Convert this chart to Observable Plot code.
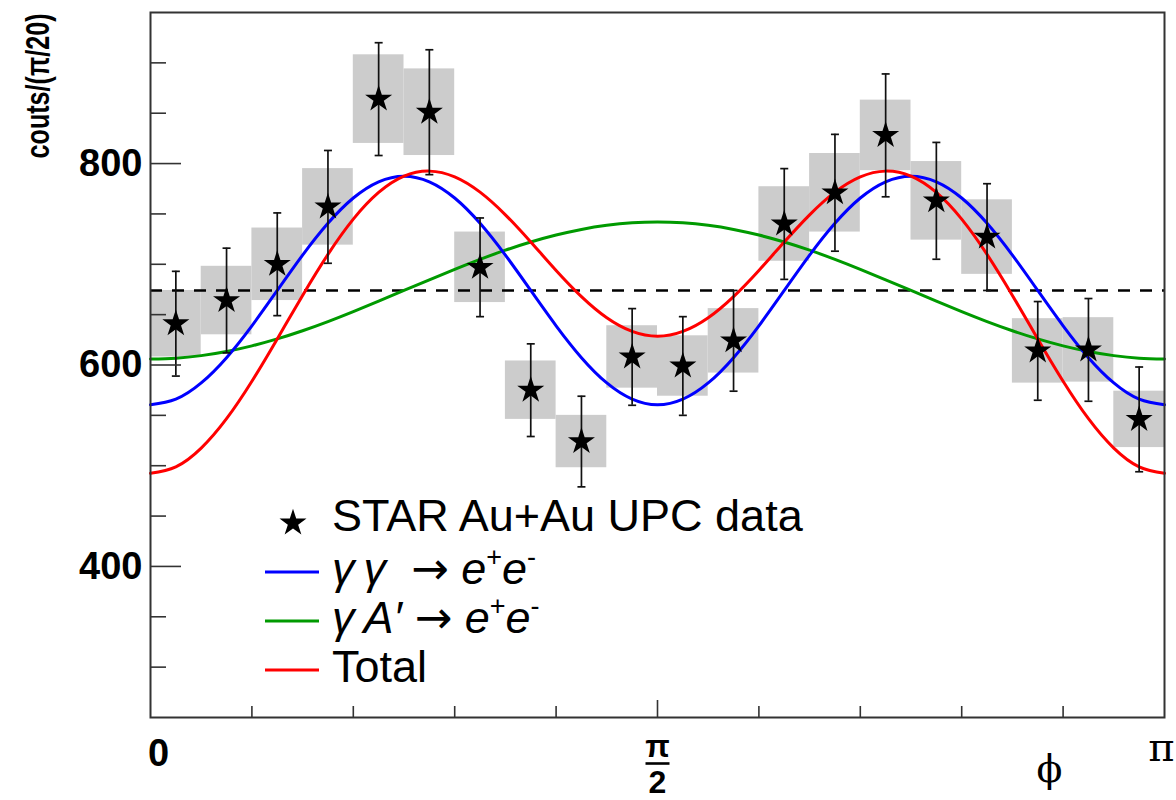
<!DOCTYPE html>
<html>
<head>
<meta charset="utf-8">
<script src="https://cdn.jsdelivr.net/npm/d3@7"></script>
<script src="https://cdn.jsdelivr.net/npm/@observablehq/plot@0.6"></script>
<style>
  body { margin: 0; background: #fff; }
  #wrap { position: relative; width: 1176px; height: 800px; overflow: hidden; }
  #wrap svg.overlay { position: absolute; left: 0; top: 0; pointer-events: none; }
</style>
</head>
<body>
<div id="wrap"></div>
<script>
// ---- data ----
// 20 bins of width pi/20 between 0 and pi
const counts  = [641, 664, 700, 757, 864, 851, 697, 575, 524, 608, 599, 624, 740, 771, 828, 763, 727, 614, 615, 546];
const statErr = [52, 52, 51, 56, 56, 62, 49, 46, 45, 48, 49, 50, 55, 58, 61, 58, 53, 49, 51, 52];
const sysErr  = [33, 34, 36, 38, 44, 43, 35, 29, 26, 31, 30, 32, 37, 39, 35, 39, 37, 32, 32, 28];

// curves sampled every pi/40 from 0 to pi (41 samples)
const gammaGamma = [560.5, 566.1, 582.2, 607.3, 638.9, 674, 709.1, 740.7, 765.8, 781.9, 787.5, 781.9, 765.8, 740.7, 709.1, 674, 638.9, 607.3, 582.2, 566.1, 560.5,
                    566.1, 582.2, 607.3, 638.9, 674, 709.1, 740.7, 765.8, 781.9, 787.5, 781.9, 765.8, 740.7, 709.1, 674, 638.9, 607.3, 582.2, 566.1, 560.5];
const gammaAprime = [606, 606.8, 609.3, 613.4, 619.0, 625.9, 634.0, 643.1, 653.0, 663.4, 674, 684.6, 695.0, 704.9, 714.0, 722.1, 729.0, 734.6, 738.7, 741.2, 742,
                     741.2, 738.7, 734.6, 729.0, 722.1, 714.0, 704.9, 695.0, 684.6, 674, 663.4, 653.0, 643.1, 634.0, 625.9, 619.0, 613.4, 609.3, 606.8, 606];
const totalFit = [492.5, 498.9, 517.5, 546.7, 583.9, 625.9, 669.1, 709.8, 744.8, 771.3, 787.5, 792.5, 786.8, 771.6, 749.1, 722.1, 693.9, 667.9, 646.9, 633.3, 628.5,
                  633.3, 646.9, 667.9, 693.9, 722.1, 749.1, 771.6, 786.8, 792.5, 787.5, 771.3, 744.8, 709.8, 669.1, 625.9, 583.9, 546.7, 517.5, 498.9, 492.5];
const flatLevel = [674];

const yMajorTicks = [400, 600, 800];
const yMinorTicks = [300, 350, 450, 500, 550, 650, 700, 750, 850, 900];
const xMajorTicks = [Math.PI / 2];
const xMinorTicks = [1, 2, 3, 4, 6, 7, 8, 9].map(k => k * Math.PI / 10);

const yTitle = "couts/(π/20)";
const xTitle = "ϕ";
const halfPiLabel = "π\n2";
const legendData = "STAR Au+Au UPC data";
const legendTotal = "Total";

// ---- layout ----
const W = 1176, H = 800, mL = 150, mR = 12, mT = 12, mB = 83;
const plotW = W - mL - mR, plotH = H - mT - mB;
const nBins = counts.length;
const binW = Math.PI / nBins;

const bins = counts.map((v, i) => ({
  phi: (i + 0.5) * binW, x1: i * binW, x2: (i + 1) * binW,
  v, stat: statErr[i], sys: sysErr[i]
}));
const nSamp = gammaGamma.length - 1;
const rows = vals => vals.map((v, k) => ({ phi: k * Math.PI / nSamp, v }));

const capSymbol = { draw(ctx) { ctx.moveTo(-4, 0); ctx.lineTo(4, 0); } };
const barSymbol = { draw(ctx) { ctx.moveTo(-12, 0); ctx.lineTo(12, 0); } };

const SANS = "'Liberation Sans', Arial, Helvetica, sans-serif";
const SERIF = "'DejaVu Serif', 'Liberation Serif', serif";

const chart = Plot.plot({
  width: W, height: H,
  marginLeft: mL, marginRight: mR, marginTop: mT, marginBottom: mB,
  style: { fontFamily: SANS, background: "white", color: "#000", overflow: "visible" },
  x: { domain: [0, Math.PI], axis: null },
  y: { domain: [250, 950] },
  marks: [
    Plot.rect(bins, { x1: "x1", x2: "x2", y1: d => d.v - d.sys, y2: d => d.v + d.sys, fill: "#cccccc" }),
    Plot.ruleY(flatLevel, { stroke: "#000", strokeWidth: 2.6, strokeDasharray: "12,10" }),
    Plot.line(rows(gammaAprime), { x: "phi", y: "v", stroke: "#009a00", strokeWidth: 3, curve: "natural" }),
    Plot.line(rows(gammaGamma), { x: "phi", y: "v", stroke: "#0000ff", strokeWidth: 3, curve: "natural" }),
    Plot.line(rows(totalFit), { x: "phi", y: "v", stroke: "#ff0000", strokeWidth: 3, curve: "natural" }),
    Plot.ruleX(bins, { x: "phi", y1: d => d.v - d.stat, y2: d => d.v + d.stat, stroke: "#111", strokeWidth: 1.7 }),
    Plot.dot(bins, { x: "phi", y: d => d.v - d.stat, symbol: capSymbol, stroke: "#111", strokeWidth: 1.7, fill: "none" }),
    Plot.dot(bins, { x: "phi", y: d => d.v + d.stat, symbol: capSymbol, stroke: "#111", strokeWidth: 1.7, fill: "none" }),
    Plot.dot(bins, { x: "phi", y: "v", symbol: "star", r: 8.5, fill: "#000", stroke: "none" }),
    // inner ticks
    Plot.tickY(yMinorTicks, { y: d => d, insetRight: plotW - 16, stroke: "#333", strokeWidth: 1.6 }),
    Plot.tickY(yMajorTicks, { y: d => d, insetRight: plotW - 31, stroke: "#333", strokeWidth: 1.6 }),
    Plot.tickX(xMinorTicks, { x: d => d, insetTop: plotH - 11, stroke: "#333", strokeWidth: 1.6 }),
    Plot.tickX(xMajorTicks, { x: d => d, insetTop: plotH - 17, stroke: "#333", strokeWidth: 1.6 }),
    Plot.frame({ stroke: "#333", strokeWidth: 2 }),
    // y axis labels
    Plot.axisY(yMajorTicks, { tickSize: 0, tickPadding: 8, fontSize: 38, fontWeight: "bold", fill: "#000", label: null }),
    // x axis labels
    Plot.text([0], { x: d => d, text: () => "0", frameAnchor: "bottom", lineAnchor: "bottom", dy: 48, dx: 8, fontSize: 38, fontWeight: "bold", fill: "#000" }),
    Plot.text([Math.PI / 2], { x: d => d, text: () => halfPiLabel, frameAnchor: "bottom", lineAnchor: "bottom", lineHeight: 1.125, dy: 75, fontSize: 32, fontWeight: "bold", fontFamily: SANS, fill: "#000" }),
    Plot.dot([Math.PI / 2], { x: d => d, frameAnchor: "bottom", dy: 46, symbol: barSymbol, stroke: "#000", strokeWidth: 2.6, fill: "none" }),
    Plot.text([Math.PI], { x: d => d, text: () => "π", frameAnchor: "bottom", lineAnchor: "bottom", dy: 43, dx: -3, fontSize: 40, fontFamily: SERIF, fill: "#000" }),
    Plot.text([xTitle], { text: d => d, frameAnchor: "bottom-right", textAnchor: "middle", lineAnchor: "bottom", dx: -115, dy: 64, fontSize: 38, fontFamily: SERIF, fill: "#000" }),
    // y title
    Plot.text([yTitle], { text: d => d, frameAnchor: "top-left", rotate: -90, textAnchor: "end", lineAnchor: "bottom", dx: -102, dy: 1, fontSize: 33, fontWeight: "bold", fill: "#000" })
  ]
});
document.getElementById("wrap").appendChild(chart);

// condense the y title like the reference (bold condensed face)
d3.select(chart).selectAll("text")
  .filter(function () { return this.textContent === yTitle; })
  .each(function () {
    const len = this.getComputedTextLength();
    const k = len > 0 ? 145 / len : 1;
    const tr = this.getAttribute("transform") || "";
    this.setAttribute("transform", tr + ` scale(${k},1)`);
  });

// ---- legend overlay ----
const ov = d3.select("#wrap").append("svg").attr("class", "overlay")
  .attr("width", W).attr("height", H);
ov.append("path")
  .attr("transform", "translate(293,523)")
  .attr("d", d3.symbol(d3.symbolStar, Math.PI * 8.5 * 8.5)())
  .attr("fill", "#000");
const fs = 45;
const tx = 332;
function addText(y) {
  return ov.append("text").attr("x", tx).attr("y", y)
    .attr("font-family", SANS).attr("font-size", fs).attr("fill", "#000");
}
addText(531).text(legendData);

const ARROW = "'DejaVu Sans', sans-serif";
const entries = [
  { color: "#0000ff", y: 584, parts: [["γ", "i"], ["\u2009", ""], ["γ", "i"], ["\u00a0\u00a0", ""], ["→", "arrow"], ["\u00a0", ""], ["e", "i"], ["+", "sup"], ["e", "i"], ["-", "sup"]] },
  { color: "#009a00", y: 633, parts: [["γ", "i"], ["\u2009", ""], ["A′", "i"], ["\u00a0", ""], ["→", "arrow"], ["\u00a0", ""], ["e", "i"], ["+", "sup"], ["e", "i"], ["-", "sup"]] },
  { color: "#ff0000", y: 682, parts: [[legendTotal, ""]] }
];
entries.forEach(e => {
  ov.append("line").attr("x1", 265).attr("x2", 319).attr("y1", e.y - 12).attr("y2", e.y - 12)
    .attr("stroke", e.color).attr("stroke-width", 3);
  const t = addText(e.y);
  let raised = false;
  e.parts.forEach(([s, kind]) => {
    const sp = t.append("tspan").text(s);
    if (kind === "i") sp.attr("font-style", "italic");
    if (kind === "arrow") sp.attr("font-family", ARROW).attr("font-size", fs);
    if (kind === "sup") {
      sp.attr("font-size", fs * 0.6).attr("dy", raised ? 0 : -18);
      raised = true;
    } else if (raised) {
      sp.attr("dy", 18);
      raised = false;
    }
  });
});
</script>
</body>
</html>
